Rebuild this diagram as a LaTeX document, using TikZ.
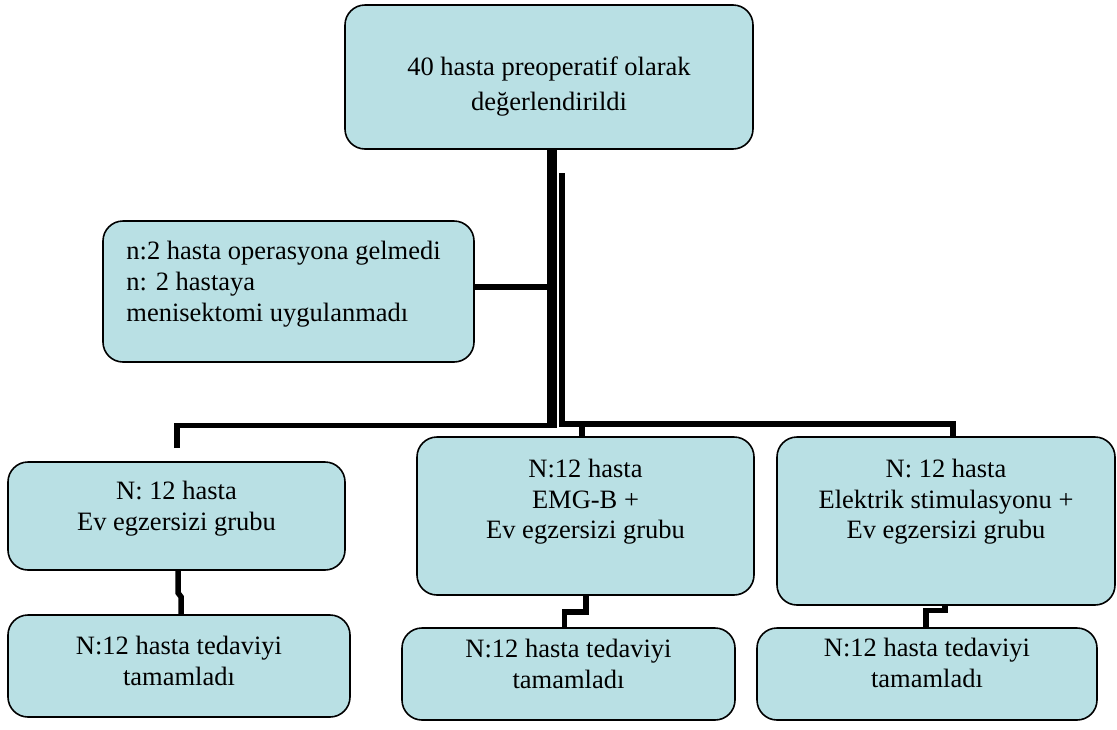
\documentclass[tikz,border=0pt]{standalone}
\usepackage{fontspec}
\setmainfont{Liberation Serif}
\definecolor{boxfill}{RGB}{185,224,228}

\begin{document}
\begin{tikzpicture}[x=1pt, y=-1pt,
    box/.style={draw, line width=1.6pt, fill=boxfill, rounded corners=20pt, inner sep=0pt},
    txt/.style={anchor=north, inner sep=0pt, align=center, font={\fontsize{26.5}{30.5}\selectfont}},
    conn/.style={line width=5.5pt}]
    \useasboundingbox (0,0) rectangle (1117,729);

    \node[box, minimum width=408pt, minimum height=144pt] (top) at (549,77) {};
    \node[box, minimum width=371pt, minimum height=141pt] (skip) at (288.5,291.5) {};
    \node[box, minimum width=337pt, minimum height=108pt] (evg) at (176.5,516) {};
    \node[box, minimum width=337pt, minimum height=158pt] (emg) at (585.5,516) {};
    \node[box, minimum width=338pt, minimum height=168pt] (es) at (946,521) {};
    \node[box, minimum width=342pt, minimum height=102pt] (evgd) at (179,666) {};
    \node[box, minimum width=333pt, minimum height=92pt] (emgd) at (568.5,674) {};
    \node[box, minimum width=340pt, minimum height=92pt] (esd) at (927,674) {};

    \node[txt, font={\fontsize{26.5}{35}\selectfont}] (top-t) at ([yshift=-52pt]top.north) {40 hasta preoperatif olarak\\değerlendirildi};
    \node[txt, anchor=north west, align=left, font={\fontsize{26.5}{31}\selectfont}] (skip-t) at ([xshift=24pt,yshift=-21pt]skip.north west) {n:2 hasta operasyona gelmedi\\n: 2 hastaya\\menisektomi uygulanmadı};
    \node[txt] (evg-t) at ([yshift=-20pt]evg.north) {N: 12 hasta\\Ev egzersizi grubu};
    \node[txt] (emg-t) at ([yshift=-23pt]emg.north) {N:12 hasta\\EMG-B +\\Ev egzersizi grubu};
    \node[txt] (es-t) at ([yshift=-23pt]es.north) {N: 12 hasta\\Elektrik stimulasyonu +\\Ev egzersizi grubu};
    \node[txt] (evgd-t) at ([yshift=-22pt]evgd.north) {N:12 hasta tedaviyi\\tamamladı};
    \node[txt] (emgd-t) at ([yshift=-12pt]emgd.north) {N:12 hasta tedaviyi\\tamamladı};
    \node[txt] (esd-t) at ([yshift=-11pt]esd.north) {N:12 hasta tedaviyi\\tamamladı};

    \coordinate (jl) at (552,427);
    \coordinate (lc) at (177,425.5);
    \coordinate (lb) at (177,448);
    \coordinate (tt) at (562,173);
    \coordinate (jr) at (562,423.5);
    \coordinate (emgin) at ([xshift=-3.5pt]emg.north);
    \coordinate (esin) at ([xshift=7pt]es.north);

    \draw[line width=10pt] ([xshift=3pt]top.south) -- (jl);
    \draw[conn] (lb) -- (lc) -- ([xshift=5pt]lc -| jl);
    \draw[conn] ([yshift=4.5pt]skip.east) -- ([yshift=4.5pt]skip.east -| jl);
    \draw[line width=6pt] (tt) -- (jr) -- (jr -| esin) -- (esin);
    \draw[conn] (jr -| emgin) -- (emgin);

    \draw[conn] ([xshift=1.5pt]evg.south) -- ++(0,22) -- ++(3,4) -- ([xshift=2pt]evgd.north);
    \draw[conn] ([xshift=0.5pt]emg.south) -- ++(0,16) -| ([xshift=-4pt]emgd.north);
    \draw[conn] ([xshift=-1pt]es.south) -- ++(0,4.5) -| ([xshift=-1pt]esd.north);
\end{tikzpicture}
\end{document}
